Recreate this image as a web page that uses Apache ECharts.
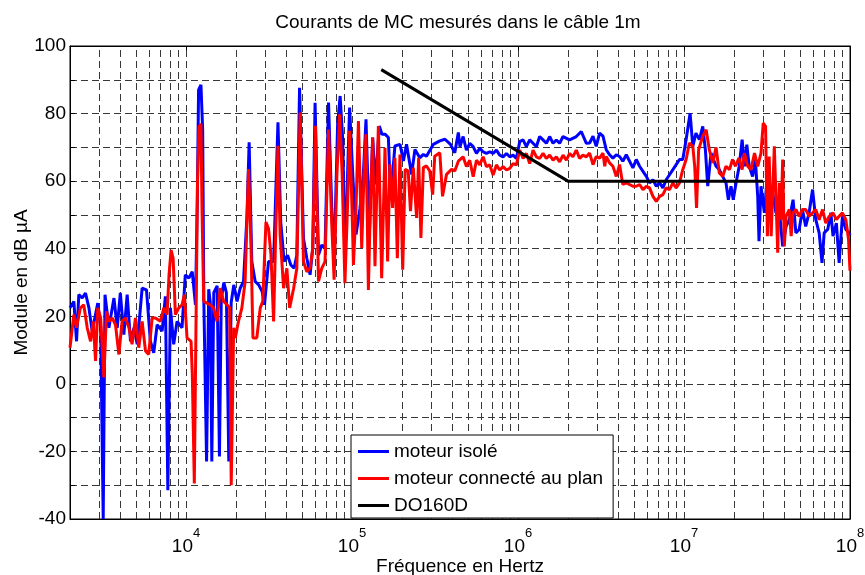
<!DOCTYPE html>
<html><head><meta charset="utf-8">
<script src="https://cdn.jsdelivr.net/npm/echarts@6/dist/echarts.min.js"></script>
<style>html,body{margin:0;padding:0;background:#fff}#c{width:865px;height:575px}</style>
</head><body><div id="c"></div>
<script>
// ---- data ----
const blueFreq = [2000,2110,2190,2260,2370,2480,2600,2720,2850,2940,3060,3170,3250,3430,3680,3850,4020,4220,4420,4630,4860,5080,5440,5780,6100,6390,6700,7180,7510,7770,8050,8430,8830,9460,9900,10400,10900,11400,11700,11900,12300,12600,12800,13300,13700,14000,14300,14700,15400,15900,16300,16900,17500,18100,18700,19400,20300,21200,22200,23300,24000,24900,26100,27400,28700,29700,31400,33700,35800,37200,39000,40900,42800,44800,46500,48300,51000,53400,55900,58000,59900,62800,65700,68800,72200,75500,78000,81900,84800,88000,90600,96700,101000,105700,111700,117000,121400,127200,133200,138300,146000,151500,158000,165600,170800,181300,194500,204000,213000,228500,239400,256000,269000,281000,309000,338000,363000,392000,416000,437000,447000,467000,489000,512000,537000,562000,588000,616000,645000,676000,708000,741000,776000,813000,852000,892000,934000,978000,1024000,1073000,1123000,1176000,1232000,1290000,1350000,1415000,1482000,1551000,1626000,1702000,1781000,1867000,2046000,2245000,2405000,2580000,2700000,2830000,2960000,3100000,3250000,3400000,3560000,3730000,3910000,4090000,4280000,4490000,4700000,4920000,5160000,5400000,5660000,5930000,6200000,6500000,6810000,7130000,7460000,7810000,8180000,8570000,8970000,9390000,9830000,10300000,10880000,11300000,11800000,12380000,12970000,13450000,13900000,14550000,15600000,16320000,17100000,17900000,18500000,19200000,19800000,20600000,21500000,22400000,23100000,23900000,24700000,25900000,26900000,27800000,28300000,29100000,30500000,31500000,32600000,34200000,35800000,37500000,39300000,41200000,43100000,45400000,47200000,49400000,51700000,54100000,56700000,59500000,62200000,65200000,67800000,69900000,73400000,76700000,79000000,82800000,86000000,90000000,94400000,98700000,100000000];
const blueDb = [22.5,24.4,12.6,26.4,25.4,26.9,22.5,15.6,20.5,23.9,16.6,-40,26.4,16.6,25.4,16.6,26.9,14.6,26.4,12.6,16.6,11.7,28.3,27.8,12.6,9.2,17.5,15.6,25.9,-31.5,22.5,11.7,18.5,16.6,32.3,31.3,33.2,23.4,55,87,88.5,75,25,-23,28,24,-23,27,29,-21.5,25,30,27,-23,24,29.3,24.4,28.3,30.3,49.9,71.5,36.2,30.3,29.3,27.4,23.4,36.2,36.2,77.4,47.9,36.2,38.1,35.2,34.2,38.1,87.6,43,37.2,32.3,40.1,83.2,38.1,41.1,40.1,83.3,52,36.2,76.8,85.2,71.9,36.2,81.8,62,44.2,52,62,78.3,44.2,72.9,59,76.3,73.9,73.9,72.9,55,70.4,70.9,66,70.9,62,69.4,66.9,67.9,67.4,70.9,71.9,72.4,70.9,68.4,74.4,70.2,73.2,69.2,71.2,70.2,68.2,69.7,68.7,68.2,68.7,68.2,69.2,67.7,67.2,68.2,67.2,67.7,66.7,71.7,72.2,70.2,72.2,71.2,70.2,73.2,72.2,71.2,73.2,71.2,72.2,71.2,73.2,72.2,73.2,74.7,71.2,71.3,73.3,70.3,74.2,73.3,69.3,67.8,66.8,67.8,67.3,65.9,67.8,65.9,63.9,66.4,64.4,62.9,61.4,59.5,60.4,58.5,59.5,58,60.4,61.9,63.4,64.9,66.4,66.4,72.3,80.1,70.3,74.2,72.3,76.2,69.3,58.5,68.3,64.4,63.4,61.4,59.5,54.5,58.5,54.5,59.5,64.4,72.3,64.4,70.8,64.4,61.4,66.4,55.5,42.2,58.5,50.6,59.5,48.6,56.5,50.6,51.6,40.7,46.6,48.6,54.5,44.7,45.7,51.6,46.6,50.6,57.5,48.6,44.7,35.8,44.7,45.7,50.6,43.7,47.6,35.8,49.6,45.7,44.7,44];

const redFreq = [2000,2110,2190,2310,2420,2540,2660,2760,2850,2940,3060,3200,3320,3430,3590,3760,3940,4120,4310,4530,4730,4960,5190,5440,5700,5960,6250,6540,7010,7350,7690,7900,8130,8360,8630,9040,9460,9780,10140,10720,10910,11220,11730,11970,12300,12480,12780,13370,14000,14670,15360,16080,16860,17650,18310,18720,19360,19800,20700,21700,22700,23800,24600,25300,26700,28000,29000,30300,31400,32500,33700,34600,35800,36900,38700,40500,42100,44500,46500,48700,51000,53400,55900,58000,60200,62800,65700,68800,72200,75500,78000,81100,84200,87200,90600,93900,96700,100000,102000,105700,109300,114400,118100,121400,125500,129600,133200,137500,144100,150900,158000,163900,169200,175600,181300,187500,194500,202000,209000,218000,225000,234000,245000,252000,260000,269000,281000,294000,306000,315000,338000,351000,371000,398000,416000,437000,447000,467000,489000,512000,537000,562000,588000,616000,645000,676000,708000,741000,776000,813000,852000,892000,934000,978000,1024000,1073000,1123000,1176000,1232000,1290000,1350000,1415000,1482000,1551000,1626000,1702000,1781000,1867000,1955000,2046000,2140000,2245000,2350000,2460000,2580000,2700000,2830000,2960000,3100000,3250000,3330000,3400000,3560000,3730000,3910000,4090000,4280000,4490000,4700000,4920000,5160000,5400000,5660000,5930000,6200000,6500000,6810000,7130000,7460000,7810000,8180000,8570000,8970000,9390000,9830000,10300000,10770000,11300000,11600000,11900000,12250000,12970000,13600000,14200000,14900000,15600000,16320000,17100000,17900000,18800000,19600000,20400000,21400000,22400000,23100000,24200000,25300000,26600000,27800000,29100000,30000000,31000000,31800000,32600000,33500000,35000000,36700000,37500000,38400000,39300000,40200000,41200000,43100000,44200000,45400000,47200000,49400000,51700000,54100000,56700000,59500000,62200000,65200000,68300000,71500000,75000000,79000000,82800000,86000000,90000000,94400000,98000000,100000000];
const redDb = [10.7,20.5,16.6,22.5,23.4,16.6,12.6,18.5,6.8,22.5,19.5,1.9,21.5,18.5,19.5,17.5,8.7,18.5,19.5,16.6,11.7,19.5,10.7,18.5,9.7,8.7,19.5,19.5,18.5,22.5,20.5,32.3,39.6,37.2,20.5,22.5,23.4,26.4,13.6,12.6,2.8,-29.5,60,76,77,51.9,24.4,23.9,23.4,22.5,18.5,28.3,24.4,23.4,22.5,-30,16.6,13.6,18.5,22.5,30.3,63.6,42,13.6,13.6,22.5,24.4,47.9,46,38.1,18.5,42,70.5,44,28.3,34.2,22.5,28.3,34.2,80.3,36.2,33.2,34.2,40.1,76.4,30.3,34.2,36.2,75.3,47.1,30.8,62,79.8,62,29.8,52.1,74.9,52.1,35.2,52.1,77.8,40.2,62,73.9,27.8,57,72.9,34.8,76.3,31.3,69.9,36.2,65,52.1,66.9,37.2,67.9,33.8,63.5,63,51.1,64,49.1,66.9,43.2,64,64.5,63,56,67.4,68.4,55.5,62,63.5,63,65.9,66.2,67.2,64.3,66.2,61.3,66.2,64.8,67.2,64.3,64.8,61.8,64.8,63.3,64.3,63.3,63.8,65.2,64.8,69.2,66.7,68.2,65.2,69.2,67.2,66.7,68.2,66.7,67.7,66.2,67.2,65.7,67.7,66.2,68.2,67.2,69.2,66.7,67.7,67.2,68.3,64.9,67.3,66.8,68.3,64.4,67.3,65.4,64.4,61.4,64.9,59,59.5,59,58.5,58.5,59,57.5,58.5,58,55.5,54,55.5,56,58,57.5,59.5,58,59.5,63.4,66.4,71.3,70.3,64.4,52.1,69.3,73.3,75.2,69.3,65.4,70,62.4,61.4,64.4,63.4,66.4,64.4,66.8,63.4,68.3,64.4,63.4,68.3,64.4,68.3,77.2,76.2,43.7,67.3,43.7,70.3,38.8,59.5,48.6,66.4,40.7,49.6,51.6,43.7,50.6,51.6,49.6,51.6,51.6,49.6,50.6,51.6,48.6,51.6,47.6,49.6,50.6,48.6,49.6,50.6,48.6,42.7,33.5];

const limitFreq = [150000, 2000000, 30000000];
const limitDb = [93, 60, 60];

const seriesNames = ['moteur isolé', 'moteur connecté au plan', 'DO160D'];
const yTickValues = [-40, -20, 0, 20, 40, 60, 80, 100];
// ---------------------------------------

const FONT = "'Liberation Sans', Arial, Helvetica, sans-serif";
const pair = (xs, ys) => xs.map((x, i) => [x, ys[i]]);

const gridFreqs = [];
for (let n = 3; n <= 7; n++) {
  for (let k = 1; k <= 9; k++) {
    const v = k * Math.pow(10, n);
    if (v > 2000 && v < 1e8) gridFreqs.push(v);
  }
}
const dash = { type: [7, 4], color: '#383838', width: 1 };
const boxLine = { show: true, onZero: false, lineStyle: { color: '#000', width: 1 } };
const inTick = { show: true, inside: true, length: 5, lineStyle: { color: '#000' } };

const chart = echarts.init(document.getElementById('c'), null, { renderer: 'canvas' });
chart.setOption({
  animation: false,
  backgroundColor: '#fff',
  textStyle: { fontFamily: FONT, color: '#000' },
  title: {
    text: 'Courants de MC mesurés dans le câble 1m',
    left: 458, top: 13, textAlign: 'center', padding: 0,
    textStyle: { fontFamily: FONT, fontSize: 19, fontWeight: 'normal', color: '#000' }
  },
  grid: {
    left: 70, right: 15, top: 46, bottom: 56, containLabel: false, outerBoundsMode: 'none',
    show: true, borderColor: '#000', borderWidth: 1, backgroundColor: '#fff'
  },
  legend: {
    data: seriesNames,
    orient: 'vertical', left: 351, top: 435,
    padding: [7, 10, 3, 7], itemGap: 8,
    itemWidth: 31, itemHeight: 3, icon: 'rect',
    backgroundColor: '#fff', borderColor: '#000', borderWidth: 1, borderRadius: 0,
    textStyle: { fontFamily: FONT, fontSize: 19, color: '#000' }
  },
  xAxis: [{
    type: 'log', logBase: 10, min: 2000, max: 1e8,
    name: 'Fréquence en Hertz', nameLocation: 'middle', nameGap: 38, nameMoveOverlap: false,
    nameTextStyle: { fontFamily: FONT, fontSize: 19, color: '#000' },
    axisLine: boxLine, axisTick: inTick,
    splitLine: { show: false },
    axisLabel: {
      show: true, margin: 17, showMinLabel: true, showMaxLabel: true, color: '#000',
      formatter: function (v) {
        const l = Math.log10(v), r = Math.round(l);
        if (Math.abs(l - r) > 1e-6) return '';
        return '{b|10}{s|' + r + '}';
      },
      rich: {
        b: { fontFamily: FONT, fontSize: 19, color: '#000', lineHeight: 20, verticalAlign: 'bottom' },
        s: { fontFamily: FONT, fontSize: 13, color: '#000', lineHeight: 13, verticalAlign: 'bottom', padding: [0, 0, 16, 0] }
      }
    }
  }, {
    type: 'log', logBase: 10, min: 2000, max: 1e8, position: 'top',
    axisLine: boxLine, axisTick: inTick,
    axisLabel: { show: false }, splitLine: { show: false }
  }],
  yAxis: [{
    type: 'value', min: -40, max: 100, interval: 10,
    name: 'Module en dB µA', nameLocation: 'middle', nameGap: 39, nameMoveOverlap: false,
    nameTextStyle: { fontFamily: FONT, fontSize: 19, color: '#000' },
    axisLine: boxLine, axisTick: inTick,
    splitLine: { show: true, lineStyle: dash },
    axisLabel: {
      margin: 4, fontFamily: FONT, fontSize: 19, color: '#000',
      formatter: v => (yTickValues.indexOf(v) >= 0 ? String(v) : '')
    }
  }, {
    type: 'value', min: -40, max: 100, interval: 10, position: 'right',
    axisLine: boxLine, axisTick: inTick,
    axisLabel: { show: false }, splitLine: { show: false }
  }],
  series: [{
    name: seriesNames[0], type: 'line', xAxisIndex: 0, yAxisIndex: 0,
    data: pair(blueFreq, blueDb),
    showSymbol: false, symbol: 'none', color: '#0000ff',
    lineStyle: { color: '#0000ff', width: 3 }, z: 3,
    markLine: {
      silent: true, symbol: ['none', 'none'], label: { show: false }, z: 1,
      animation: false, lineStyle: dash, emphasis: { disabled: true },
      data: gridFreqs.map(v => ({ xAxis: v }))
    }
  }, {
    name: seriesNames[1], type: 'line', xAxisIndex: 0, yAxisIndex: 0,
    data: pair(redFreq, redDb),
    showSymbol: false, symbol: 'none', color: '#ff0000',
    lineStyle: { color: '#ff0000', width: 3 }, z: 4
  }, {
    name: seriesNames[2], type: 'line', xAxisIndex: 0, yAxisIndex: 0,
    data: pair(limitFreq, limitDb),
    showSymbol: false, symbol: 'none', color: '#000000',
    lineStyle: { color: '#000000', width: 3 }, z: 5
  }]
});
</script>
</body></html>
